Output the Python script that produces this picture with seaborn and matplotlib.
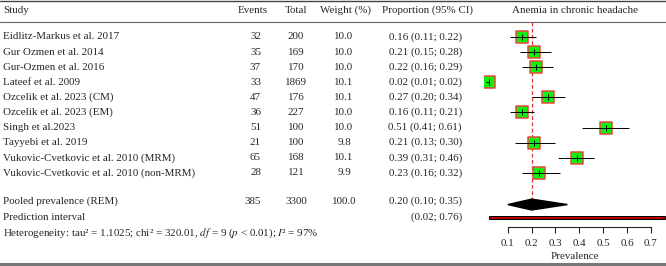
import numpy as np
import pandas as pd
import matplotlib
matplotlib.use("Agg")
import matplotlib.pyplot as plt
import seaborn as sns

studies = ["Eidlitz-Markus et al. 2017", "Gur Ozmen et al. 2014", "Gur-Ozmen et al. 2016",
           "Lateef et al. 2009", "Ozcelik et al. 2023 (CM)", "Ozcelik et al. 2023 (EM)",
           "Singh et al.2023", "Tayyebi et al. 2019", "Vukovic-Cvetkovic et al. 2010 (MRM)",
           "Vukovic-Cvetkovic et al. 2010 (non-MRM)"]
events = [32, 35, 37, 33, 47, 36, 51, 21, 65, 28]
totals = [200, 169, 170, 1869, 176, 227, 100, 100, 168, 121]
weights = [10.0, 10.0, 10.0, 10.1, 10.1, 10.0, 10.0, 9.8, 10.1, 9.9]
prop = [0.16, 0.21, 0.22, 0.02, 0.27, 0.16, 0.51, 0.21, 0.39, 0.23]
lower = [0.11, 0.15, 0.16, 0.01, 0.20, 0.11, 0.41, 0.13, 0.31, 0.16]
upper = [0.22, 0.28, 0.29, 0.02, 0.34, 0.21, 0.61, 0.30, 0.46, 0.32]

pooled = 0.20
pooled_ci = (0.10, 0.35)
pred_ci = (0.02, 0.76)
pooled_events, pooled_total, pooled_weight = 385, 3300, 100.0
xticks = [0.1, 0.2, 0.3, 0.4, 0.5, 0.6, 0.7]

df = pd.DataFrame({"study": studies, "prop": prop, "lo": lower, "hi": upper,
                   "row": np.arange(len(studies))})

sns.set_style("white")
plt.rcParams["font.family"] = ["Liberation Serif", "DejaVu Serif"]
plt.rcParams["mathtext.fontset"] = "stix"
fs = 7.9

fig = plt.figure(figsize=(6.66, 2.66), dpi=100)
# rows: pixel y = 37 + 15.1 * row
ylim = (15.17, -2.45)
tab = fig.add_axes([0, 0, 1, 1])
tab.set_xlim(0, 666)
tab.set_ylim(*ylim)
tab.axis("off")

hdr = -1.77
tab.text(3, hdr, "Study", fontsize=fs, va="center")
tab.text(253, hdr, "Events", fontsize=fs, va="center", ha="center")
tab.text(296, hdr, "Total", fontsize=fs, va="center", ha="center")
tab.text(345, hdr, "Weight (%)", fontsize=fs, va="center", ha="center")
tab.text(427, hdr, "Proportion (95% CI)", fontsize=fs, va="center", ha="center")
tab.text(575, hdr, "Anemia in chronic headache", fontsize=fs, va="center", ha="center")

for i, r in df.iterrows():
    y = r["row"]
    tab.text(3, y, r["study"], fontsize=fs, va="center")
    tab.text(261, y, f"{events[i]}", fontsize=fs, va="center", ha="right")
    tab.text(296, y, f"{totals[i]}", fontsize=fs, va="center", ha="center")
    tab.text(344, y, f"{weights[i]:.1f}", fontsize=fs, va="center", ha="center")
    tab.text(462, y, f"{prop[i]:.2f} ({lower[i]:.2f}; {upper[i]:.2f})", fontsize=fs,
             va="center", ha="right")

yp = 10.9
tab.text(3, yp, "Pooled prevalence (REM)", fontsize=fs, va="center")
tab.text(261, yp, f"{pooled_events}", fontsize=fs, va="center", ha="right")
tab.text(296, yp, f"{pooled_total}", fontsize=fs, va="center", ha="center")
tab.text(344, yp, f"{pooled_weight:.1f}", fontsize=fs, va="center", ha="center")
tab.text(462, yp, f"{pooled:.2f} ({pooled_ci[0]:.2f}; {pooled_ci[1]:.2f})", fontsize=fs,
         va="center", ha="right")
tab.text(3, 11.95, "Prediction interval", fontsize=fs, va="center")
tab.text(462, 11.95, f"({pred_ci[0]:.2f}; {pred_ci[1]:.2f})", fontsize=fs,
         va="center", ha="right")
tab.text(3, 12.98, "Heterogeneity: tau² = 1.1025; chi² = 320.01, $df$ = 9 ($p$ < 0.01); $I$² = 97%",
         fontsize=fs, va="center")

tab.axhline(-2.38, color="#444444", lw=1.0)
tab.axhline(-0.99, color="#666666", lw=0.8)
tab.axhline(15.07, color="#777777", lw=2.2)

# forest panel
ax = fig.add_axes([484 / 666, 0, 182 / 666, 1])
ax.set_xlim(0, 182 / 238.3)
ax.set_ylim(*ylim)
ax.patch.set_alpha(0)
for s in ["top", "right", "left"]:
    ax.spines[s].set_visible(False)

ax.vlines(pooled, -0.99, 10.9, color="#e03030", lw=0.9, ls=(0, (3, 2)), zorder=1)
sns.scatterplot(data=df, x="prop", y="row", marker="s", s=80, color="#11ee11",
                edgecolor="#e84a3c", linewidth=1.1, ax=ax, zorder=3, legend=False)
ax.hlines(df["row"], df["lo"], df["hi"], color="black", lw=0.7, zorder=4)
ax.scatter(df["prop"], df["row"], marker="|", s=14, color="black", lw=0.7, zorder=5)

dh = 0.36
ax.fill([pooled_ci[0], pooled, pooled_ci[1], pooled],
        [yp + 0.2, yp + 0.2 - dh, yp + 0.2, yp + 0.2 + dh], color="black", zorder=3)
ax.barh(11.95, pred_ci[1] - pred_ci[0], left=pred_ci[0], height=0.2,
        color="#b00000", edgecolor="black", lw=0.7, zorder=3)

ax.spines["bottom"].set_position(("data", 12.58))
ax.spines["bottom"].set_bounds(xticks[0], xticks[-1])
ax.spines["bottom"].set_linewidth(0.8)
ax.set_xticks(xticks)
ax.set_xticklabels([f"{t:.1f}" for t in xticks])
ax.tick_params(axis="x", direction="out", length=4.5, width=0.8, pad=4, labelsize=fs, bottom=True)
ax.set_yticks([])
ax.set_xlabel("Prevalence", fontsize=fs, labelpad=3)
ax.set_ylabel("")

fig.savefig("out.png", dpi=100)
